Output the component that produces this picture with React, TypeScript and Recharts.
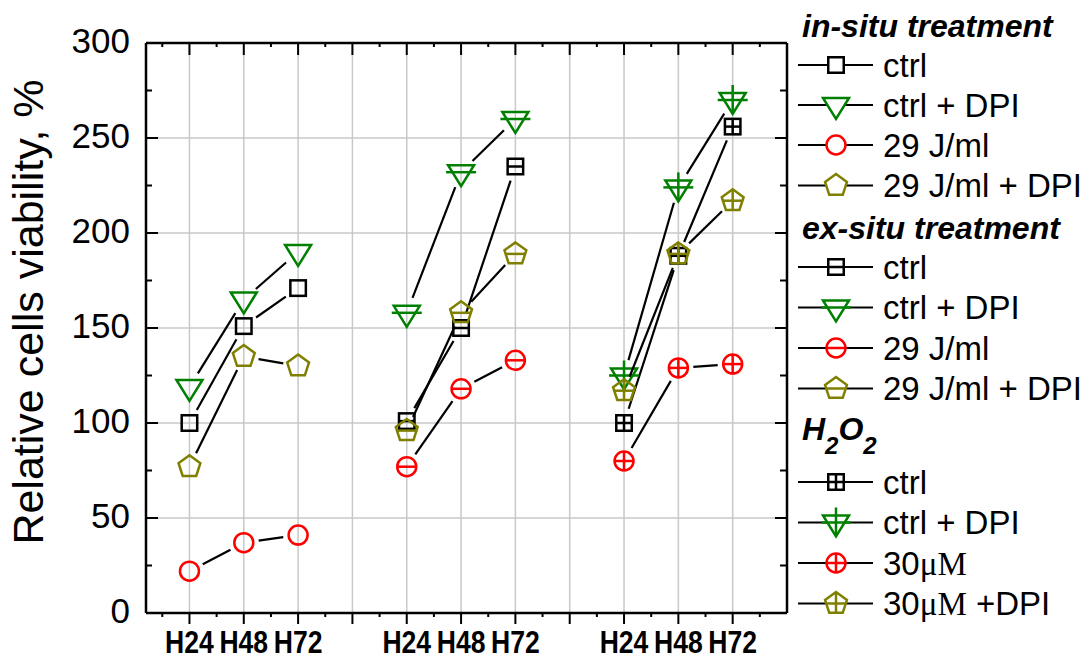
import React from 'react';
import { ScatterChart, Scatter, XAxis, YAxis, CartesianGrid } from 'recharts';

// ---------- data ----------
const timePoints = ['H24', 'H48', 'H72'];
const groupOffsets = [0, 4, 8]; // x position offset of each treatment group
const groupTitles = ['in-situ treatment', 'ex-situ treatment', 'H2O2'];

const inSituCtrl = [100, 151, 171];
const inSituCtrlDpi = [119, 165, 190];
const inSitu29 = [22, 37, 41];
const inSitu29Dpi = [77, 135, 130];

const exSituCtrl = [101, 150, 235];
const exSituCtrlDpi = [158, 232, 260];
const exSitu29 = [77, 118, 133];
const exSitu29Dpi = [96, 158, 189];

const h2o2Ctrl = [100, 188, 256];
const h2o2CtrlDpi = [125, 224, 270];
const h2o2Conc30 = [80, 129, 131];
const h2o2Conc30Dpi = [117, 189, 217];

const yTicks = [0, 25, 50, 75, 100, 125, 150, 175, 200, 225, 250, 275, 300];
const yGridValues = [50, 100, 150, 200, 250];
const yDomain = [0, 300];
const xDomain = [0.2, 12];

const BLACK = '#000000';
const GREEN = '#008000';
const RED = '#ff0000';
const OLIVE = '#808000';

type Kind = 'square' | 'triangle' | 'circle' | 'pentagon';
type Deco = 'none' | 'hbar' | 'plus';
interface SeriesDef {
  group: number;
  label: string;
  values: number[];
  kind: Kind;
  deco: Deco;
  color: string;
}

const seriesDefs: SeriesDef[] = [
  { group: 0, label: 'ctrl', values: inSituCtrl, kind: 'square', deco: 'none', color: BLACK },
  { group: 0, label: 'ctrl + DPI', values: inSituCtrlDpi, kind: 'triangle', deco: 'none', color: GREEN },
  { group: 0, label: '29 J/ml', values: inSitu29, kind: 'circle', deco: 'none', color: RED },
  { group: 0, label: '29 J/ml + DPI', values: inSitu29Dpi, kind: 'pentagon', deco: 'none', color: OLIVE },
  { group: 1, label: 'ctrl', values: exSituCtrl, kind: 'square', deco: 'hbar', color: BLACK },
  { group: 1, label: 'ctrl + DPI', values: exSituCtrlDpi, kind: 'triangle', deco: 'hbar', color: GREEN },
  { group: 1, label: '29 J/ml', values: exSitu29, kind: 'circle', deco: 'hbar', color: RED },
  { group: 1, label: '29 J/ml + DPI', values: exSitu29Dpi, kind: 'pentagon', deco: 'hbar', color: OLIVE },
  { group: 2, label: 'ctrl', values: h2o2Ctrl, kind: 'square', deco: 'plus', color: BLACK },
  { group: 2, label: 'ctrl + DPI', values: h2o2CtrlDpi, kind: 'triangle', deco: 'plus', color: GREEN },
  { group: 2, label: '30μM', values: h2o2Conc30, kind: 'circle', deco: 'plus', color: RED },
  { group: 2, label: '30μM +DPI', values: h2o2Conc30Dpi, kind: 'pentagon', deco: 'plus', color: OLIVE },
];

// x tick positions (majors at integers, minors at halves)
const xTicks: number[] = [];
for (let v = 0.5; v <= 11.5; v += 0.5) xTicks.push(v);
const xGridValues: number[] = [];
for (let v = 1; v <= 11; v += 1) xGridValues.push(v);

const xLabelFor = (v: number): string => {
  for (let g = 0; g < groupOffsets.length; g++) {
    for (let i = 0; i < timePoints.length; i++) {
      if (groupOffsets[g] + i + 1 === v) return timePoints[i];
    }
  }
  return '';
};

// ---------- styles ----------
const SANS = "'Liberation Sans', Arial, Helvetica, sans-serif";
const SERIF = "'Liberation Serif', 'Times New Roman', serif";
const AXIS_W = 2.5;
const LINE_W = 2.2;
const MARK_W = 2.5;

// ---------- markers ----------
function Marker({ cx, cy, kind, deco, color, fill = 'none' }: any) {
  const st = { stroke: color, strokeWidth: MARK_W, fill };
  let shape: any = null;
  let h: [number, number] = [0, 0];
  let v: [number, number] = [0, 0];
  if (kind === 'square') {
    const s = 7.75;
    shape = <rect x={cx - s} y={cy - s} width={2 * s} height={2 * s} {...st} />;
    h = [-s, s];
    v = [-s, s];
  } else if (kind === 'triangle') {
    const w = 13;
    const top = 7;
    const bot = 14;
    shape = (
      <polygon
        points={`${cx - w},${cy - top} ${cx + w},${cy - top} ${cx},${cy + bot}`}
        strokeLinejoin="miter"
        {...st}
      />
    );
    h = [-15, 15];
    v = [-15, bot];
  } else if (kind === 'circle') {
    const r = 9.5;
    shape = <circle cx={cx} cy={cy} r={r} {...st} />;
    h = [-r, r];
    v = [-r, r];
  } else {
    const R = 11.5;
    const pts: string[] = [];
    for (let k = 0; k < 5; k++) {
      const a = (-90 + k * 72) * (Math.PI / 180);
      pts.push(`${cx + R * Math.cos(a)},${cy + R * Math.sin(a)}`);
    }
    shape = <polygon points={pts.join(' ')} {...st} />;
    const hw = R * 0.85;
    h = [-hw, hw];
    v = [-R, R * Math.cos(Math.PI / 5)];
  }
  return (
    <g>
      {shape}
      {deco !== 'none' && (
        <line x1={cx + h[0]} x2={cx + h[1]} y1={cy} y2={cy} stroke={color} strokeWidth={MARK_W} />
      )}
      {deco === 'plus' && (
        <line x1={cx} x2={cx} y1={cy + v[0]} y2={cy + v[1]} stroke={color} strokeWidth={MARK_W} />
      )}
    </g>
  );
}

// connecting line with gaps around the markers
function GapLine(props: any) {
  const { points, gap } = props;
  if (!points || points.length < 2) return null;
  const segs: any[] = [];
  for (let i = 0; i < points.length - 1; i++) {
    const a = points[i];
    const b = points[i + 1];
    const dx = b.x - a.x;
    const dy = b.y - a.y;
    const len = Math.hypot(dx, dy);
    if (len <= 2 * gap) continue;
    const ux = dx / len;
    const uy = dy / len;
    segs.push(
      <line
        key={i}
        x1={a.x + ux * gap}
        y1={a.y + uy * gap}
        x2={b.x - ux * gap}
        y2={b.y - uy * gap}
        stroke={BLACK}
        strokeWidth={LINE_W}
      />
    );
  }
  return <g>{segs}</g>;
}

// ---------- axis ticks ----------
const BottomTick = (p: any) => {
  const { x, y, payload } = p;
  const v = payload.value;
  const major = Number.isInteger(v);
  const label = major ? xLabelFor(v) : '';
  return (
    <g>
      <line x1={x} x2={x} y1={y} y2={y + (major ? 11 : 4)} stroke={BLACK} strokeWidth={2} />
      {label && (
        <text
          x={0}
          y={0}
          transform={`translate(${x},${y + 40}) scale(0.83,1)`}
          textAnchor="middle"
          fontFamily={SANS}
          fontWeight="bold"
          fontSize={32}
          fill={BLACK}
        >
          {label}
        </text>
      )}
    </g>
  );
};

const TopTick = (p: any) => {
  const { x, y, payload } = p;
  const major = Number.isInteger(payload.value);
  return <line x1={x} x2={x} y1={y} y2={y + (major ? 12 : 4)} stroke={BLACK} strokeWidth={2} />;
};

const LeftTick = (p: any) => {
  const { x, y, payload } = p;
  const major = payload.value % 50 === 0;
  return (
    <g>
      <line x1={x} x2={x + (major ? 12 : 6)} y1={y} y2={y} stroke={BLACK} strokeWidth={2} />
      {major && (
        <text x={x - 16} y={y + 10} textAnchor="end" fontFamily={SANS} fontSize={35} fill={BLACK}>
          {payload.value}
        </text>
      )}
    </g>
  );
};

const RightTick = (p: any) => {
  const { x, y, payload } = p;
  const major = payload.value % 50 === 0;
  return <line x1={x} x2={x - (major ? 12 : 7)} y1={y} y2={y} stroke={BLACK} strokeWidth={2} />;
};

// ---------- legend ----------
const legendLayout = {
  lineX1: 798,
  lineX2: 873,
  markX: 836,
  textX: 883,
  titleX: 802,
  titleBaselines: [37, 239, 440],
  rows: [
    [65, 105, 145, 185.5],
    [267, 307.5, 348, 388.5],
    [482, 522.5, 563, 603.5],
  ],
};

function LegendLabel({ text, x, y }: any) {
  const m = text.match(/^(\d+)(μM)(.*)$/);
  if (m) {
    return (
      <text x={x} y={y} fontFamily={SANS} fontSize={33} fill={BLACK}>
        <tspan>{m[1]}</tspan>
        <tspan fontFamily={SERIF}>{m[2]}</tspan>
        <tspan>{m[3]}</tspan>
      </text>
    );
  }
  return (
    <text x={x} y={y} fontFamily={SANS} fontSize={33} fill={BLACK}>
      {text}
    </text>
  );
}

function GroupTitle({ title, x, y }: any) {
  if (title === 'H2O2') {
    return (
      <text x={x} y={y} fontFamily={SANS} fontSize={32} fontWeight="bold" fontStyle="italic" fill={BLACK}>
        <tspan>H</tspan>
        <tspan fontSize={24} dy={14}>2</tspan>
        <tspan dy={-14}>O</tspan>
        <tspan fontSize={24} dy={14}>2</tspan>
      </text>
    );
  }
  return (
    <text x={x} y={y} fontFamily={SANS} fontSize={32} fontWeight="bold" fontStyle="italic" fill={BLACK}>
      {title}
    </text>
  );
}

function LegendOverlay() {
  const L = legendLayout;
  return (
    <svg
      width={1089}
      height={661}
      style={{ position: 'absolute', left: 0, top: 0, pointerEvents: 'none' }}
    >
      <text
        x={43}
        y={312}
        transform="rotate(-90, 43, 312)"
        textAnchor="middle"
        fontFamily={SANS}
        fontSize={43}
        fill={BLACK}
      >
        Relative cells viability, %
      </text>
      {groupTitles.map((t, g) => (
        <GroupTitle key={'t' + g} title={t} x={L.titleX} y={L.titleBaselines[g]} />
      ))}
      {seriesDefs.map((s, i) => {
        const idx = i % 4;
        const ry = L.rows[s.group][idx];
        return (
          <g key={'l' + i}>
            <line x1={L.lineX1} x2={L.lineX2} y1={ry} y2={ry} stroke={BLACK} strokeWidth={LINE_W} />
            <Marker cx={L.markX} cy={ry} kind={s.kind} deco={s.deco} color={s.color} fill="#ffffff" />
            <LegendLabel text={s.label} x={L.textX} y={ry + 11.8} />
          </g>
        );
      })}
    </svg>
  );
}

// ---------- chart ----------
export default function App() {
  return (
    <div style={{ position: 'absolute', left: 0, top: 0, width: 1089, height: 661, background: '#ffffff' }}>
      <ScatterChart width={1089} height={661} margin={{ top: 42, right: 301, bottom: 0, left: 0 }}>
        <CartesianGrid
          stroke="#c8c8c8"
          strokeWidth={1.5}
          verticalValues={xGridValues}
          horizontalValues={yGridValues}
        />
        <XAxis
          type="number"
          dataKey="x"
          domain={xDomain}
          allowDataOverflow
          ticks={xTicks}
          interval={0}
          height={48}
          tickSize={0}
          tickMargin={0}
          tickLine={false}
          axisLine={{ stroke: BLACK, strokeWidth: AXIS_W }}
          tick={<BottomTick />}
        />
        <XAxis
          xAxisId="top"
          orientation="top"
          type="number"
          dataKey="x"
          domain={xDomain}
          allowDataOverflow
          ticks={xTicks}
          interval={0}
          height={1}
          tickSize={0}
          tickMargin={0}
          tickLine={false}
          axisLine={{ stroke: BLACK, strokeWidth: AXIS_W }}
          tick={<TopTick />}
        />
        <YAxis
          type="number"
          dataKey="y"
          domain={yDomain}
          allowDataOverflow
          ticks={yTicks}
          interval={0}
          width={146}
          tickSize={0}
          tickMargin={0}
          tickLine={false}
          axisLine={{ stroke: BLACK, strokeWidth: AXIS_W }}
          tick={<LeftTick />}
        />
        <YAxis
          yAxisId="right"
          orientation="right"
          type="number"
          dataKey="y"
          domain={yDomain}
          allowDataOverflow
          ticks={yTicks}
          interval={0}
          width={1}
          tickSize={0}
          tickMargin={0}
          tickLine={false}
          axisLine={{ stroke: BLACK, strokeWidth: AXIS_W }}
          tick={<RightTick />}
        />
        {seriesDefs.map((s, i) => {
          const data = s.values.map((val, k) => ({ x: groupOffsets[s.group] + k + 1, y: val }));
          const gap = s.kind === 'triangle' ? 16 : 15;
          return (
            <Scatter
              key={i}
              name={s.label}
              data={data}
              fill={s.color}
              isAnimationActive={false}
              lineType="joint"
              line={<GapLine gap={gap} />}
              shape={(p: any) => (
                <Marker cx={p.cx} cy={p.cy} kind={s.kind} deco={s.deco} color={s.color} />
              )}
            />
          );
        })}
      </ScatterChart>
      <LegendOverlay />
    </div>
  );
}
